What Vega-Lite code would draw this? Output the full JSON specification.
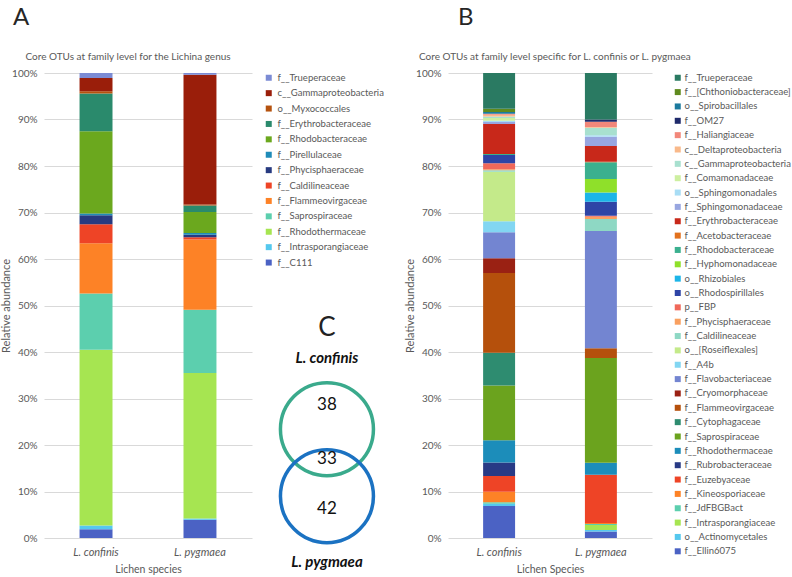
{
  "$schema": "https://vega.github.io/schema/vega-lite/v6.json",
  "padding": {"left": 0, "top": 6, "right": 0, "bottom": 0},
  "datasets": {
    "lichina": [
      {"species": "L. confinis", "taxon": "f__C111", "abundance": 1.9},
      {"species": "L. confinis", "taxon": "f__Intrasporangiaceae", "abundance": 0.8},
      {"species": "L. confinis", "taxon": "f__Rhodothermaceae", "abundance": 37.8},
      {"species": "L. confinis", "taxon": "f__Saprospiraceae", "abundance": 12.1},
      {"species": "L. confinis", "taxon": "f__Flammeovirgaceae", "abundance": 10.8},
      {"species": "L. confinis", "taxon": "f__Caldilineaceae", "abundance": 4.1},
      {"species": "L. confinis", "taxon": "f__Phycisphaeraceae", "abundance": 1.9},
      {"species": "L. confinis", "taxon": "f__Pirellulaceae", "abundance": 0.4},
      {"species": "L. confinis", "taxon": "f__Rhodobacteraceae", "abundance": 17.7},
      {"species": "L. confinis", "taxon": "f__Erythrobacteraceae", "abundance": 8.1},
      {"species": "L. confinis", "taxon": "o__Myxococcales", "abundance": 0.5},
      {"species": "L. confinis", "taxon": "c__Gammaproteobacteria", "abundance": 2.8},
      {"species": "L. confinis", "taxon": "f__Trueperaceae", "abundance": 1.1},
      {"species": "L. pygmaea", "taxon": "f__C111", "abundance": 3.9},
      {"species": "L. pygmaea", "taxon": "f__Intrasporangiaceae", "abundance": 0.3},
      {"species": "L. pygmaea", "taxon": "f__Rhodothermaceae", "abundance": 31.3},
      {"species": "L. pygmaea", "taxon": "f__Saprospiraceae", "abundance": 13.6},
      {"species": "L. pygmaea", "taxon": "f__Flammeovirgaceae", "abundance": 15.1},
      {"species": "L. pygmaea", "taxon": "f__Caldilineaceae", "abundance": 0.5},
      {"species": "L. pygmaea", "taxon": "f__Phycisphaeraceae", "abundance": 0.5},
      {"species": "L. pygmaea", "taxon": "f__Pirellulaceae", "abundance": 0.4},
      {"species": "L. pygmaea", "taxon": "f__Rhodobacteraceae", "abundance": 4.5},
      {"species": "L. pygmaea", "taxon": "f__Erythrobacteraceae", "abundance": 1.4},
      {"species": "L. pygmaea", "taxon": "o__Myxococcales", "abundance": 0.2},
      {"species": "L. pygmaea", "taxon": "c__Gammaproteobacteria", "abundance": 27.9},
      {"species": "L. pygmaea", "taxon": "f__Trueperaceae", "abundance": 0.4}
    ],
    "specific": [
      {"species": "L. confinis", "taxon": "f__Ellin6075", "abundance": 6.9},
      {"species": "L. confinis", "taxon": "o__Actinomycetales", "abundance": 0.5},
      {"species": "L. confinis", "taxon": "f__JdFBGBact", "abundance": 0.3},
      {"species": "L. confinis", "taxon": "f__Kineosporiaceae", "abundance": 2.3},
      {"species": "L. confinis", "taxon": "f__Euzebyaceae", "abundance": 3.4},
      {"species": "L. confinis", "taxon": "f__Rubrobacteraceae", "abundance": 2.9},
      {"species": "L. confinis", "taxon": "f__Rhodothermaceae", "abundance": 4.8},
      {"species": "L. confinis", "taxon": "f__Saprospiraceae", "abundance": 11.8},
      {"species": "L. confinis", "taxon": "f__Cytophagaceae", "abundance": 7.1},
      {"species": "L. confinis", "taxon": "f__Flammeovirgaceae", "abundance": 17.2},
      {"species": "L. confinis", "taxon": "f__Cryomorphaceae", "abundance": 3.2},
      {"species": "L. confinis", "taxon": "f__Flavobacteriaceae", "abundance": 5.6},
      {"species": "L. confinis", "taxon": "f__A4b", "abundance": 2.4},
      {"species": "L. confinis", "taxon": "o__[Roseiflexales]", "abundance": 10.7},
      {"species": "L. confinis", "taxon": "f__Caldilineaceae", "abundance": 0.3},
      {"species": "L. confinis", "taxon": "f__Phycisphaeraceae", "abundance": 0.2},
      {"species": "L. confinis", "taxon": "p__FBP", "abundance": 1.3},
      {"species": "L. confinis", "taxon": "o__Rhodospirillales", "abundance": 1.8},
      {"species": "L. confinis", "taxon": "f__Rhodobacteraceae", "abundance": 0.2},
      {"species": "L. confinis", "taxon": "f__Erythrobacteraceae", "abundance": 6.5},
      {"species": "L. confinis", "taxon": "f__Sphingomonadaceae", "abundance": 0.4},
      {"species": "L. confinis", "taxon": "o__Sphingomonadales", "abundance": 0.3},
      {"species": "L. confinis", "taxon": "f__Comamonadaceae", "abundance": 0.6},
      {"species": "L. confinis", "taxon": "c__Gammaproteobacteria", "abundance": 0.3},
      {"species": "L. confinis", "taxon": "c__Deltaproteobacteria", "abundance": 0.4},
      {"species": "L. confinis", "taxon": "f__Haliangiaceae", "abundance": 0.2},
      {"species": "L. confinis", "taxon": "o__Spirobacillales", "abundance": 0.4},
      {"species": "L. confinis", "taxon": "f__[Chthoniobacteraceae]", "abundance": 0.7},
      {"species": "L. confinis", "taxon": "f__Trueperaceae", "abundance": 7.7},
      {"species": "L. pygmaea", "taxon": "f__Ellin6075", "abundance": 1.4},
      {"species": "L. pygmaea", "taxon": "o__Actinomycetales", "abundance": 0.3},
      {"species": "L. pygmaea", "taxon": "f__Intrasporangiaceae", "abundance": 1.1},
      {"species": "L. pygmaea", "taxon": "f__JdFBGBact", "abundance": 0.2},
      {"species": "L. pygmaea", "taxon": "f__Kineosporiaceae", "abundance": 0.2},
      {"species": "L. pygmaea", "taxon": "f__Euzebyaceae", "abundance": 10.4},
      {"species": "L. pygmaea", "taxon": "f__Rhodothermaceae", "abundance": 2.6},
      {"species": "L. pygmaea", "taxon": "f__Saprospiraceae", "abundance": 22.5},
      {"species": "L. pygmaea", "taxon": "f__Flammeovirgaceae", "abundance": 2.1},
      {"species": "L. pygmaea", "taxon": "f__Flavobacteriaceae", "abundance": 25.2},
      {"species": "L. pygmaea", "taxon": "f__Caldilineaceae", "abundance": 2.6},
      {"species": "L. pygmaea", "taxon": "f__Phycisphaeraceae", "abundance": 0.5},
      {"species": "L. pygmaea", "taxon": "p__FBP", "abundance": 0.2},
      {"species": "L. pygmaea", "taxon": "o__Rhodospirillales", "abundance": 3.0},
      {"species": "L. pygmaea", "taxon": "o__Rhizobiales", "abundance": 2.0},
      {"species": "L. pygmaea", "taxon": "f__Hyphomonadaceae", "abundance": 2.9},
      {"species": "L. pygmaea", "taxon": "f__Rhodobacteraceae", "abundance": 3.6},
      {"species": "L. pygmaea", "taxon": "f__Acetobacteraceae", "abundance": 0.1},
      {"species": "L. pygmaea", "taxon": "f__Erythrobacteraceae", "abundance": 3.4},
      {"species": "L. pygmaea", "taxon": "f__Sphingomonadaceae", "abundance": 2.0},
      {"species": "L. pygmaea", "taxon": "o__Sphingomonadales", "abundance": 0.3},
      {"species": "L. pygmaea", "taxon": "c__Gammaproteobacteria", "abundance": 1.6},
      {"species": "L. pygmaea", "taxon": "c__Deltaproteobacteria", "abundance": 0.2},
      {"species": "L. pygmaea", "taxon": "f__Haliangiaceae", "abundance": 1.1},
      {"species": "L. pygmaea", "taxon": "f__OM27", "abundance": 0.5},
      {"species": "L. pygmaea", "taxon": "f__Trueperaceae", "abundance": 10.0}
    ],
    "venn": [
      {"set": "L. confinis", "unique": 38, "shared": 33},
      {"set": "L. pygmaea", "unique": 42, "shared": 33}
    ]
  },
  "hconcat": [
    {
      "data": {"name": "lichina"},
      "width": 208,
      "height": 465,
      "title": {
        "text": "A",
        "subtitle": "\u200b\u2003\u2002Core OTUs at family level for the Lichina genus",
        "dx": -31
      },
      "transform": [
        {"calculate": "indexof(['f__C111', 'f__Intrasporangiaceae', 'f__Rhodothermaceae', 'f__Saprospiraceae', 'f__Flammeovirgaceae', 'f__Caldilineaceae', 'f__Phycisphaeraceae', 'f__Pirellulaceae', 'f__Rhodobacteraceae', 'f__Erythrobacteraceae', 'o__Myxococcales', 'c__Gammaproteobacteria', 'f__Trueperaceae'], datum.taxon)", "as": "stack_rank"}
      ],
      "mark": {"type": "bar"},
      "encoding": {
        "x": {"field": "species", "type": "nominal", "title": "Lichen species",
              "scale": {"paddingInner": 0.683, "paddingOuter": 0.342}},
        "y": {"field": "abundance", "type": "quantitative", "stack": "normalize",
              "title": "Relative abundance",
              "scale": {"domain": [0, 1]},
              "axis": {"values": [0, 0.1, 0.2, 0.3, 0.4, 0.5, 0.6, 0.7, 0.8, 0.9, 1], "format": ".0%"}},
        "order": {"field": "stack_rank", "type": "quantitative", "sort": "ascending"},
        "color": {
          "field": "taxon", "type": "nominal",
          "scale": {
            "domain": ["f__C111", "f__Intrasporangiaceae", "f__Rhodothermaceae", "f__Saprospiraceae", "f__Flammeovirgaceae", "f__Caldilineaceae", "f__Phycisphaeraceae", "f__Pirellulaceae", "f__Rhodobacteraceae", "f__Erythrobacteraceae", "o__Myxococcales", "c__Gammaproteobacteria", "f__Trueperaceae"],
            "range": ["#4B62C4", "#55C8EE", "#A6E551", "#5CCFAE", "#FD8226", "#EE4426", "#273A80", "#1F8BB8", "#6BA81E", "#2A8A6C", "#B5520E", "#9A1E0A", "#7B8BD4"]
          },
          "legend": {
            "title": null, "orient": "right", "offset": 12, "rowPadding": 4.4,
            "values": ["f__Trueperaceae", "c__Gammaproteobacteria", "o__Myxococcales", "f__Erythrobacteraceae", "f__Rhodobacteraceae", "f__Pirellulaceae", "f__Phycisphaeraceae", "f__Caldilineaceae", "f__Flammeovirgaceae", "f__Saprospiraceae", "f__Rhodothermaceae", "f__Intrasporangiaceae", "f__C111"]
          }
        }
      }
    },
    {
      "data": {"name": "venn"},
      "width": 176,
      "height": 465,
      "encoding": {
        "x": {"datum": "Venn", "type": "nominal", "scale": {"type": "point", "padding": 0, "align": 0.369}, "axis": null},
        "y": {"datum": "Venn", "type": "nominal", "scale": {"type": "band", "paddingInner": 0.663, "paddingOuter": 1, "align": 0.895}, "axis": null},
        "yOffset": {"field": "set", "type": "nominal", "scale": {"type": "point", "padding": 0, "domain": ["L. confinis", "L. pygmaea"]}}
      },
      "layer": [
        {
          "mark": {"type": "point", "shape": "circle", "filled": false, "size": 8649, "strokeWidth": 3.5, "opacity": 1},
          "encoding": {
            "stroke": {"field": "set", "type": "nominal", "scale": {"domain": ["L. confinis", "L. pygmaea"], "range": ["#3AAA8C", "#1B72C2"]}, "legend": null}
          }
        },
        {
          "transform": [{"filter": "datum.set === 'L. confinis'"}],
          "mark": {"type": "text", "dy": -24, "fontSize": 17, "color": "#111111", "font": "Lato"},
          "encoding": {"text": {"field": "unique", "type": "quantitative"}}
        },
        {
          "transform": [{"filter": "datum.set === 'L. pygmaea'"}],
          "mark": {"type": "text", "dy": 13, "fontSize": 17, "color": "#111111", "font": "Lato"},
          "encoding": {"text": {"field": "unique", "type": "quantitative"}}
        },
        {
          "transform": [{"filter": "datum.set === 'L. confinis'"}],
          "mark": {"type": "text", "dy": 30, "fontSize": 17, "color": "#111111", "font": "Lato"},
          "encoding": {"text": {"field": "shared", "type": "quantitative"}}
        },
        {
          "transform": [{"filter": "datum.set === 'L. confinis'"}],
          "mark": {"type": "text", "dy": -71, "fontSize": 15, "fontWeight": "bold", "fontStyle": "italic", "color": "#111111", "font": "Lato"},
          "encoding": {"text": {"field": "set", "type": "nominal"}}
        },
        {
          "transform": [{"filter": "datum.set === 'L. pygmaea'"}],
          "mark": {"type": "text", "dy": 66, "fontSize": 15, "fontWeight": "bold", "fontStyle": "italic", "color": "#111111", "font": "Lato"},
          "encoding": {"text": {"field": "set", "type": "nominal"}}
        },
        {
          "transform": [{"filter": "datum.set === 'L. confinis'"}],
          "mark": {"type": "text", "dy": -101, "fontSize": 26, "color": "#222222", "font": "Lato", "text": "C"}
        }
      ]
    },
    {
      "data": {"name": "specific"},
      "width": 204,
      "height": 465,
      "title": {
        "text": "\u200b\u2003\u2002\u2005\u2009B",
        "subtitle": "Core OTUs at family level specific for L. confinis or L. pygmaea",
        "dx": -29
      },
      "transform": [
        {"calculate": "indexof(['f__Ellin6075', 'o__Actinomycetales', 'f__Intrasporangiaceae', 'f__JdFBGBact', 'f__Kineosporiaceae', 'f__Euzebyaceae', 'f__Rubrobacteraceae', 'f__Rhodothermaceae', 'f__Saprospiraceae', 'f__Cytophagaceae', 'f__Flammeovirgaceae', 'f__Cryomorphaceae', 'f__Flavobacteriaceae', 'f__A4b', 'o__[Roseiflexales]', 'f__Caldilineaceae', 'f__Phycisphaeraceae', 'p__FBP', 'o__Rhodospirillales', 'o__Rhizobiales', 'f__Hyphomonadaceae', 'f__Rhodobacteraceae', 'f__Acetobacteraceae', 'f__Erythrobacteraceae', 'f__Sphingomonadaceae', 'o__Sphingomonadales', 'f__Comamonadaceae', 'c__Gammaproteobacteria', 'c__Deltaproteobacteria', 'f__Haliangiaceae', 'f__OM27', 'o__Spirobacillales', 'f__[Chthoniobacteraceae]', 'f__Trueperaceae'], datum.taxon)", "as": "stack_rank"}
      ],
      "mark": {"type": "bar"},
      "encoding": {
        "x": {"field": "species", "type": "nominal", "title": "Lichen Species",
              "scale": {"paddingInner": 0.686, "paddingOuter": 0.345}},
        "y": {"field": "abundance", "type": "quantitative", "stack": "normalize",
              "title": "Relative abundance",
              "scale": {"domain": [0, 1]},
              "axis": {"values": [0, 0.1, 0.2, 0.3, 0.4, 0.5, 0.6, 0.7, 0.8, 0.9, 1], "format": ".0%"}},
        "order": {"field": "stack_rank", "type": "quantitative", "sort": "ascending"},
        "color": {
          "field": "taxon", "type": "nominal",
          "scale": {
            "domain": ["f__Ellin6075", "o__Actinomycetales", "f__Intrasporangiaceae", "f__JdFBGBact", "f__Kineosporiaceae", "f__Euzebyaceae", "f__Rubrobacteraceae", "f__Rhodothermaceae", "f__Saprospiraceae", "f__Cytophagaceae", "f__Flammeovirgaceae", "f__Cryomorphaceae", "f__Flavobacteriaceae", "f__A4b", "o__[Roseiflexales]", "f__Caldilineaceae", "f__Phycisphaeraceae", "p__FBP", "o__Rhodospirillales", "o__Rhizobiales", "f__Hyphomonadaceae", "f__Rhodobacteraceae", "f__Acetobacteraceae", "f__Erythrobacteraceae", "f__Sphingomonadaceae", "o__Sphingomonadales", "f__Comamonadaceae", "c__Gammaproteobacteria", "c__Deltaproteobacteria", "f__Haliangiaceae", "f__OM27", "o__Spirobacillales", "f__[Chthoniobacteraceae]", "f__Trueperaceae"],
            "range": ["#4B62C4", "#55C8EE", "#A6E551", "#5CCFAE", "#FD8226", "#EE4426", "#283A85", "#1C8DBA", "#6BA31E", "#2E8C70", "#B5500C", "#9A2113", "#7385D1", "#82D6F2", "#C4EA8A", "#8ED8C4", "#F9A060", "#F0685A", "#2E44A6", "#1CB5E8", "#8FE02A", "#3BB08F", "#E2711D", "#C8281A", "#98A6E0", "#A8DDF5", "#CDEFA0", "#A8E0CF", "#F9B98A", "#F2877A", "#1F2A6B", "#1B7A9E", "#5F8A1E", "#2A7A62"]
          },
          "legend": {
            "title": null, "orient": "right", "offset": 21, "rowPadding": 3.35, "labelOffset": 2,
            "values": ["f__Trueperaceae", "f__[Chthoniobacteraceae]", "o__Spirobacillales", "f__OM27", "f__Haliangiaceae", "c__Deltaproteobacteria", "c__Gammaproteobacteria", "f__Comamonadaceae", "o__Sphingomonadales", "f__Sphingomonadaceae", "f__Erythrobacteraceae", "f__Acetobacteraceae", "f__Rhodobacteraceae", "f__Hyphomonadaceae", "o__Rhizobiales", "o__Rhodospirillales", "p__FBP", "f__Phycisphaeraceae", "f__Caldilineaceae", "o__[Roseiflexales]", "f__A4b", "f__Flavobacteriaceae", "f__Cryomorphaceae", "f__Flammeovirgaceae", "f__Cytophagaceae", "f__Saprospiraceae", "f__Rhodothermaceae", "f__Rubrobacteraceae", "f__Euzebyaceae", "f__Kineosporiaceae", "f__JdFBGBact", "f__Intrasporangiaceae", "o__Actinomycetales", "f__Ellin6075"]
          }
        }
      }
    }
  ],
  "spacing": 10,
  "bounds": "flush",
  "resolve": {
    "scale": {"color": "independent", "x": "independent", "y": "independent", "stroke": "independent"},
    "legend": {"color": "independent"}
  },
  "config": {
    "font": "Lato",
    "view": {"stroke": null},
    "bar": {"strokeWidth": 0},
    "title": {
      "font": "Lato", "fontSize": 24, "fontWeight": "normal", "color": "#262626",
      "anchor": "start", "frame": "group",
      "subtitleFont": "Lato", "subtitleFontSize": 10, "subtitleColor": "#595959",
      "offset": 6, "subtitlePadding": 22
    },
    "axis": {
      "labelFont": "Lato", "titleFont": "Lato", "labelColor": "#595959", "titleColor": "#595959",
      "titleFontWeight": "normal", "domain": false, "ticks": false,
      "gridColor": "#D9D9D9", "gridWidth": 1
    },
    "axisY": {"labelFontSize": 10, "labelPadding": 7, "titleFontSize": 11, "titlePadding": 0},
    "axisX": {"labelFontSize": 11, "labelFontStyle": "italic", "labelPadding": 8, "labelAngle": 0,
              "titleFontSize": 10.5, "titlePadding": 7, "grid": false},
    "legend": {
      "labelFont": "Lato", "labelFontSize": 9.5, "labelColor": "#595959",
      "symbolType": "square", "symbolSize": 36, "symbolStrokeWidth": 0,
      "labelOffset": 4, "padding": 0, "labelLimit": 300, "symbolLimit": 60
    }
  }
}
